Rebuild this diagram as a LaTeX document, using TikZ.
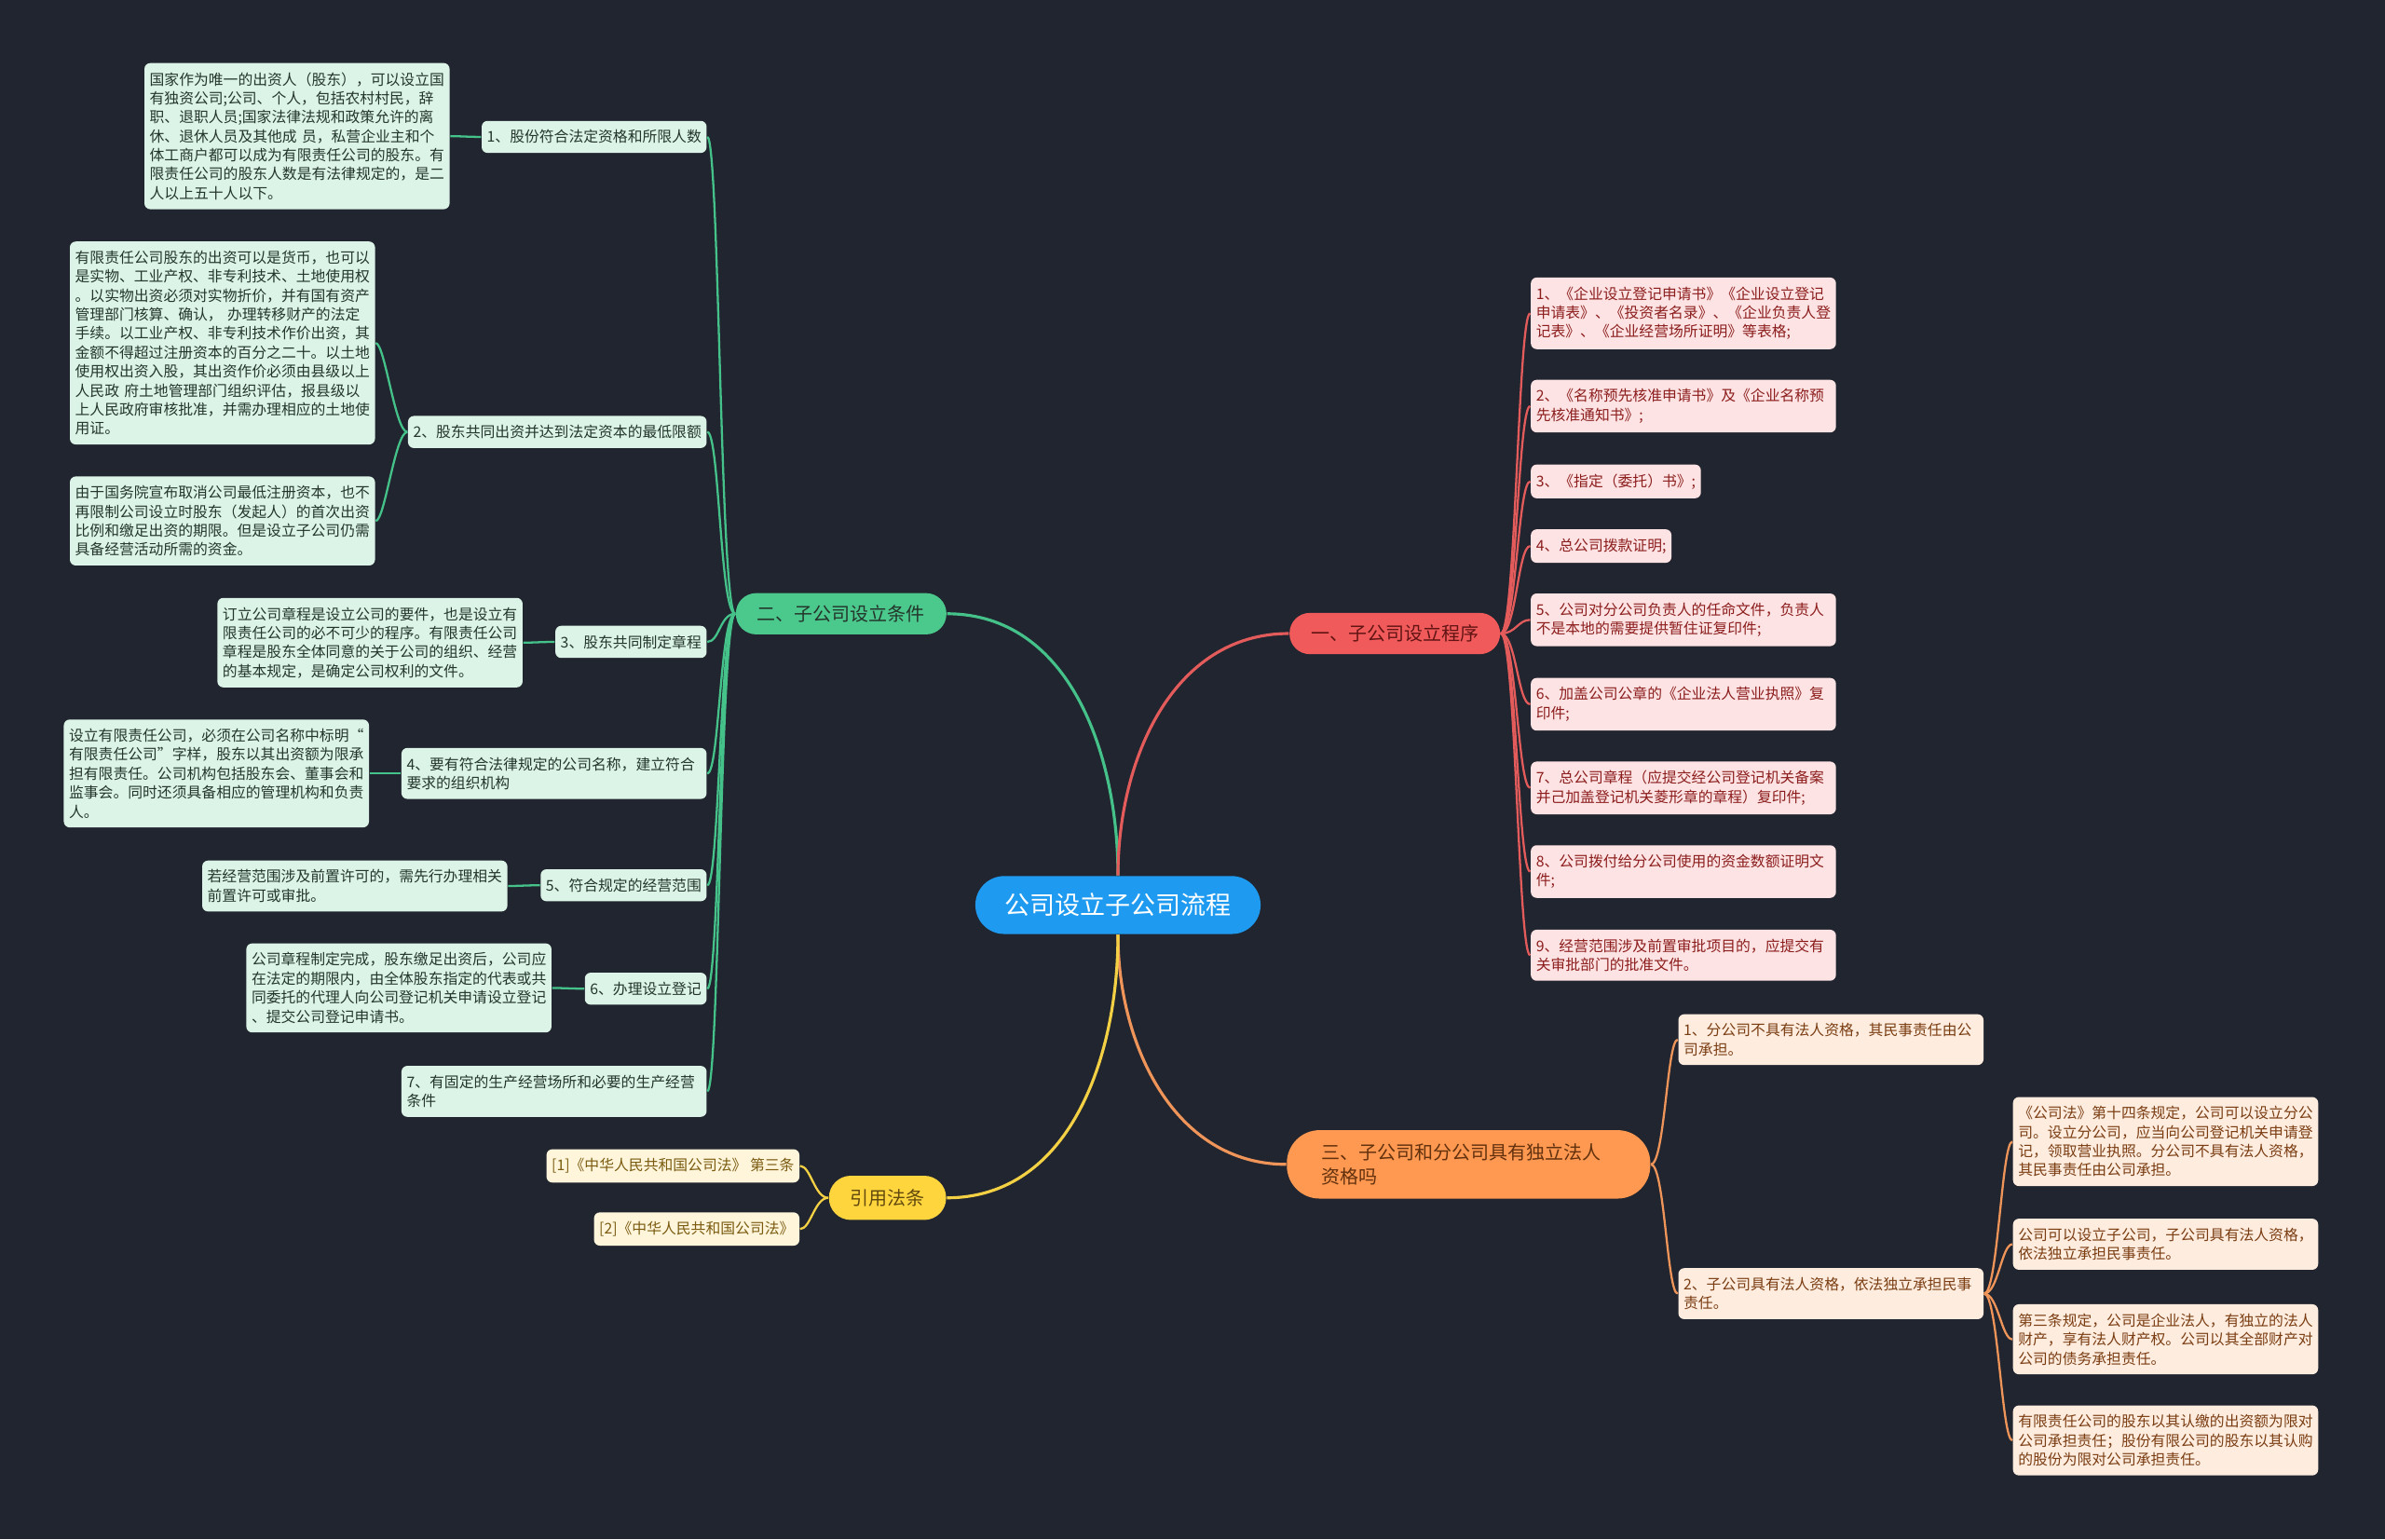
\documentclass[tikz,border=0pt]{standalone}
\usepackage{fontspec}
\setmainfont{Noto Sans CJK SC}
\usepackage{tikz}
\usetikzlibrary{positioning}
\definecolor{Bg}{HTML}{21252F}
\definecolor{Blue}{HTML}{1E9BF0}
\definecolor{Green}{HTML}{4BC88C}
\definecolor{GreenLine}{HTML}{45C28A}
\definecolor{GreenSoft}{HTML}{DCF4E7}
\definecolor{GreenInk}{HTML}{24362C}
\definecolor{Red}{HTML}{F05A5A}
\definecolor{RedLine}{HTML}{E35B5B}
\definecolor{RedSoft}{HTML}{FDE3E3}
\definecolor{RedInk}{HTML}{8C1D1D}
\definecolor{Orange}{HTML}{FF9850}
\definecolor{OrangeLine}{HTML}{F0955A}
\definecolor{OrangeSoft}{HTML}{FEECDF}
\definecolor{OrangeInk}{HTML}{7A3D12}
\definecolor{Yellow}{HTML}{FFD53E}
\definecolor{YellowLine}{HTML}{F4D144}
\definecolor{YellowSoft}{HTML}{FFF5DA}
\definecolor{YellowInk}{HTML}{7A5B10}

\begin{document}
\begin{tikzpicture}[x=0.016327cm,y=-0.016327cm,
  root/.style={fill=Blue,text=white,rounded corners=8.8pt,font=\fontsize{7.7}{9}\selectfont,inner xsep=8.9pt,inner ysep=0pt,minimum height=17.7pt},
  branch/.style={rounded corners=6.2pt,font=\fontsize{5.7}{7.4}\selectfont,inner xsep=6.5pt,inner ysep=0pt,minimum height=12.6pt,align=left},
  leafbox/.style={rounded corners=1.8pt,font=\fontsize{4.5}{5.8}\selectfont,inner xsep=1.6pt,inner ysep=2.8pt,align=left},
  wbox/.style={text width=90pt},
  gbox/.style={leafbox,fill=GreenSoft,text=GreenInk,anchor=east},
  rbox/.style={leafbox,fill=RedSoft,text=RedInk,anchor=west},
  obox/.style={leafbox,fill=OrangeSoft,text=OrangeInk,anchor=west},
  ybox/.style={leafbox,fill=YellowSoft,text=YellowInk,anchor=east},
  gline/.style={draw=GreenLine,line width=0.65pt},
  rline/.style={draw=RedLine,line width=0.65pt},
  oline/.style={draw=OrangeLine,line width=0.65pt},
  yline/.style={draw=YellowLine,line width=0.65pt},
  trunk/.style={line width=0.9pt}
]
\fill[Bg] (0,0) rectangle (1568,1012);

% centre and main branches
\node[root] (root) at (735,595) {公司设立子公司流程};
\node[branch,fill=Green,text=GreenInk] (b2) at (553,403.5) {二、子公司设立条件};
\node[branch,fill=Red,text=RedInk!70!black] (b1) at (917,416.5) {一、子公司设立程序};
\node[branch,fill=Orange,text=OrangeInk!80!black,rounded corners=10pt,inner xsep=10.5pt,text width=90pt,minimum height=20.9pt] (b3) at (965.5,765.5) {三、子公司和分公司具有独立法人\\资格吗};
\node[branch,fill=Yellow,text=YellowInk!80!black,rounded corners=6.7pt,minimum height=13.5pt] (b4) at (583.5,787.5) {引用法条};

\draw[gline,trunk] (root.north) to[out=90,in=0] (b2.east);
\draw[rline,trunk] (root.north) to[out=90,in=180] (b1.west);
\draw[oline,trunk] (root.south) to[out=-90,in=180] (b3.west);
\draw[yline,trunk] (root.south) to[out=-90,in=0] (b4.east);

% conditions
\node[gbox] (g1) at (465,90) {1、股份符合法定资格和所限人数};
\node[gbox] (g2) at (465,284) {2、股东共同出资并达到法定资本的最低限额};
\node[gbox] (g3) at (465,422) {3、股东共同制定章程};
\node[gbox,wbox] (g4) at (465,508.5) {4、要有符合法律规定的公司名称，建立符合\\要求的组织机构};
\node[gbox] (g5) at (465,582) {5、符合规定的经营范围};
\node[gbox] (g6) at (465,650) {6、办理设立登记};
\node[gbox,wbox] (g7) at (465,717.5) {7、有固定的生产经营场所和必要的生产经营\\条件};

\node[gbox,wbox] (d1) at (296,89.5) {国家作为唯一的出资人（股东），可以设立国\\有独资公司;公司、个人，包括农村村民，辞\\职、退职人员;国家法律法规和政策允许的离\\休、退休人员及其他成 员，私营企业主和个\\体工商户都可以成为有限责任公司的股东。有\\限责任公司的股东人数是有法律规定的，是二\\人以上五十人以下。};
\node[gbox,wbox] (d2a) at (247,225.5) {有限责任公司股东的出资可以是货币，也可以\\是实物、工业产权、非专利技术、土地使用权\\。以实物出资必须对实物折价，并有国有资产\\管理部门核算、确认， 办理转移财产的法定\\手续。以工业产权、非专利技术作价出资，其\\金额不得超过注册资本的百分之二十。以土地\\使用权出资入股，其出资作价必须由县级以上\\人民政 府土地管理部门组织评估，报县级以\\上人民政府审核批准，并需办理相应的土地使\\用证。};
\node[gbox,wbox] (d2b) at (247,342.5) {由于国务院宣布取消公司最低注册资本，也不\\再限制公司设立时股东（发起人）的首次出资\\比例和缴足出资的期限。但是设立子公司仍需\\具备经营活动所需的资金。};
\node[gbox,wbox] (d3) at (344,422.5) {订立公司章程是设立公司的要件，也是设立有\\限责任公司的必不可少的程序。有限责任公司\\章程是股东全体同意的关于公司的组织、经营\\的基本规定，是确定公司权利的文件。};
\node[gbox,wbox] (d4) at (243,508.5) {设立有限责任公司，必须在公司名称中标明“\\有限责任公司”字样，股东以其出资额为限承\\担有限责任。公司机构包括股东会、董事会和\\监事会。同时还须具备相应的管理机构和负责\\人。};
\node[gbox,wbox] (d5) at (334,582.5) {若经营范围涉及前置许可的，需先行办理相关\\前置许可或审批。};
\node[gbox,wbox] (d6) at (363,649.5) {公司章程制定完成，股东缴足出资后，公司应\\在法定的期限内，由全体股东指定的代表或共\\同委托的代理人向公司登记机关申请设立登记\\、提交公司登记申请书。};

\foreach \i in {1,...,7} {
  \draw[gline] (b2.west) .. controls +(-10,0) and +(8,0) .. (g\i.east);
}
\foreach \a/\b in {g1/d1,g2/d2a,g2/d2b,g3/d3,g4/d4,g5/d5,g6/d6} {
  \draw[gline] (\a.west) .. controls +(-8,0) and +(6,0) .. (\b.east);
}

% procedure
\node[rbox,wbox] (r1) at (1006,206) {1、《企业设立登记申请书》《企业设立登记\\申请表》、《投资者名录》、《企业负责人登\\记表》、《企业经营场所证明》等表格;};
\node[rbox,wbox] (r2) at (1006,267) {2、《名称预先核准申请书》及《企业名称预\\先核准通知书》;};
\node[rbox] (r3) at (1006,316.5) {3、《指定（委托）书》;};
\node[rbox] (r4) at (1006,359) {4、总公司拨款证明;};
\node[rbox,wbox] (r5) at (1006,407.5) {5、公司对分公司负责人的任命文件，负责人\\不是本地的需要提供暂住证复印件;};
\node[rbox,wbox] (r6) at (1006,463) {6、加盖公司公章的《企业法人营业执照》复\\印件;};
\node[rbox,wbox] (r7) at (1006,518) {7、总公司章程（应提交经公司登记机关备案\\并己加盖登记机关菱形章的章程）复印件;};
\node[rbox,wbox] (r8) at (1006,573) {8、公司拨付给分公司使用的资金数额证明文\\件;};
\node[rbox,wbox] (r9) at (1006,628) {9、经营范围涉及前置审批项目的，应提交有\\关审批部门的批准文件。};

\foreach \i in {1,...,9} {
  \draw[rline] (b1.east) .. controls +(10,0) and +(-8,0) .. (r\i.west);
}

% legal person
\node[obox,wbox] (o1) at (1103,683.5) {1、分公司不具有法人资格，其民事责任由公\\司承担。};
\node[obox,wbox] (o2) at (1103,850.5) {2、子公司具有法人资格，依法独立承担民事\\责任。};
\node[obox,wbox] (o2a) at (1323,750.5) {《公司法》第十四条规定，公司可以设立分公\\司。设立分公司，应当向公司登记机关申请登\\记，领取营业执照。分公司不具有法人资格，\\其民事责任由公司承担。};
\node[obox,wbox] (o2b) at (1323,818) {公司可以设立子公司，子公司具有法人资格，\\依法独立承担民事责任。};
\node[obox,wbox] (o2c) at (1323,880.5) {第三条规定，公司是企业法人，有独立的法人\\财产，享有法人财产权。公司以其全部财产对\\公司的债务承担责任。};
\node[obox,wbox] (o2d) at (1323,947) {有限责任公司的股东以其认缴的出资额为限对\\公司承担责任；股份有限公司的股东以其认购\\的股份为限对公司承担责任。};

\foreach \a/\b in {b3/o1,b3/o2,o2/o2a,o2/o2b,o2/o2c,o2/o2d} {
  \draw[oline] (\a.east) .. controls +(9,0) and +(-7,0) .. (\b.west);
}

% references
\node[ybox] (y1) at (526,766.5) {[1]《中华人民共和国公司法》 第三条};
\node[ybox] (y2) at (526,808) {[2]《中华人民共和国公司法》};

\foreach \n in {y1,y2} {
  \draw[yline] (b4.west) .. controls +(-9,0) and +(7,0) .. (\n.east);
}
\end{tikzpicture}
\end{document}
